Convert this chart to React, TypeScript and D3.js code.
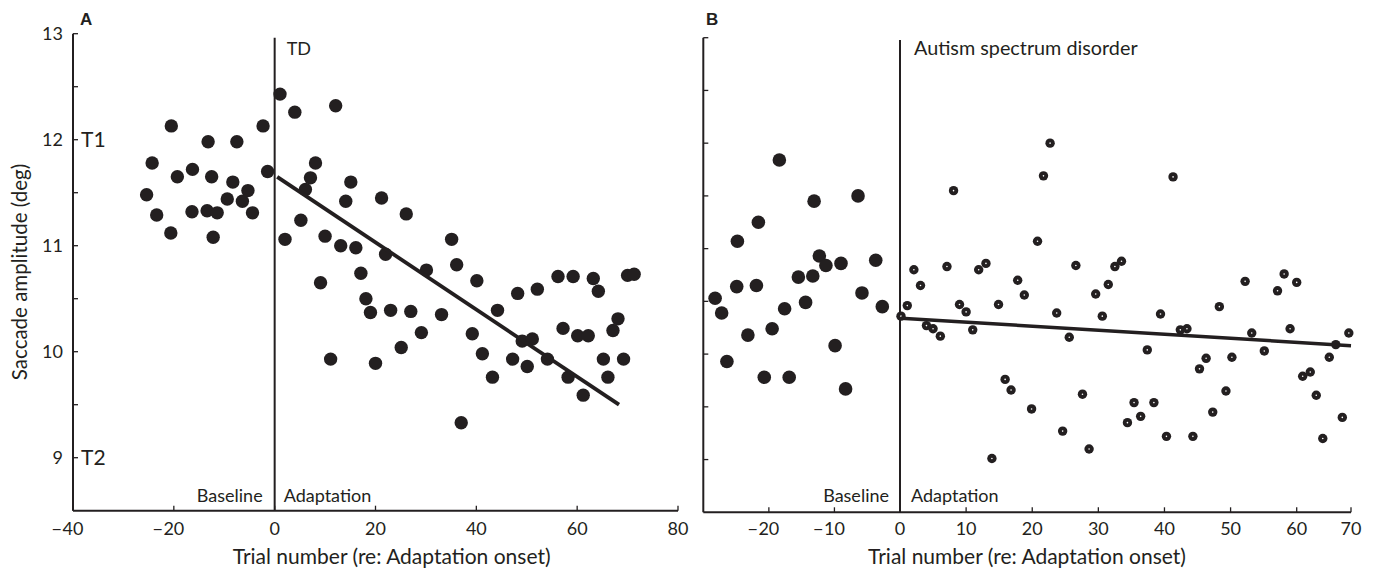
import React from "react";
import * as d3 from "d3";

// ---------- Data ----------
// Panel A: typically developing (TD)
const aBaselineTrial = [-25.4, -24.3, -23.4, -20.5, -20.6, -19.3, -16.3, -16.4, -13.2, -13.4, -12.5, -11.4, -12.2, -9.4, -8.3, -7.5, -6.4, -5.3, -4.4, -2.3, -1.4];
const aBaselineAmp = [11.48, 11.78, 11.29, 12.13, 11.12, 11.65, 11.72, 11.32, 11.98, 11.33, 11.65, 11.31, 11.08, 11.44, 11.6, 11.98, 11.42, 11.52, 11.31, 12.13, 11.7];
const aAdaptTrial = [1.06, 2.05, 4.0, 5.2, 6.1, 7.1, 8.1, 9.1, 10.0, 11.1, 12.1, 13.1, 14.1, 15.1, 16.1, 17.1, 18.1, 19.0, 20.0, 21.2, 22.0, 23.0, 25.1, 26.1, 27.0, 29.1, 30.1, 33.1, 35.1, 36.1, 37.0, 39.2, 40.1, 41.2, 43.2, 44.2, 47.2, 48.2, 49.1, 50.1, 51.1, 52.1, 54.1, 56.2, 57.2, 58.2, 59.2, 60.1, 61.2, 62.2, 63.2, 64.2, 65.2, 66.1, 67.1, 68.1, 69.2, 70.0, 71.3];
const aAdaptAmp = [12.43, 11.06, 12.26, 11.24, 11.53, 11.64, 11.78, 10.65, 11.09, 9.93, 12.32, 11.0, 11.42, 11.6, 10.98, 10.74, 10.5, 10.37, 9.89, 11.45, 10.92, 10.39, 10.04, 11.3, 10.38, 10.18, 10.77, 10.35, 11.06, 10.82, 9.33, 10.17, 10.67, 9.98, 9.76, 10.39, 9.93, 10.55, 10.1, 9.86, 10.12, 10.59, 9.93, 10.71, 10.22, 9.76, 10.71, 10.15, 9.59, 10.15, 10.69, 10.57, 9.93, 9.76, 10.2, 10.31, 9.93, 10.72, 10.73];
const aFitTrial = [0.5, 68.3];
const aFitAmp = [11.65, 9.5];

// Panel B: autism spectrum disorder
const bBaselineTrial = [-28.2, -27.2, -26.4, -24.9, -24.8, -23.2, -21.9, -21.6, -20.7, -19.5, -18.4, -17.6, -16.9, -15.5, -14.4, -13.3, -13.1, -12.3, -11.3, -9.9, -9.0, -8.3, -6.4, -5.8, -3.7, -2.7];
const bBaselineAmp = [10.53, 10.39, 9.93, 10.64, 11.07, 10.18, 10.65, 11.25, 9.78, 10.24, 11.84, 10.43, 9.78, 10.73, 10.49, 10.74, 11.45, 10.93, 10.84, 10.08, 10.86, 9.67, 11.5, 10.58, 10.89, 10.45];
const bAdaptTrial = [0.15, 1.1, 2.1, 3.1, 4.0, 5.0, 6.1, 7.1, 8.1, 9.0, 10.0, 11.0, 11.9, 13.0, 13.9, 14.9, 15.9, 16.8, 17.8, 18.8, 19.9, 20.8, 21.7, 22.7, 23.7, 24.6, 25.6, 26.6, 27.6, 28.6, 29.6, 30.6, 31.5, 32.5, 33.5, 34.4, 35.4, 36.4, 37.4, 38.4, 39.4, 40.3, 41.3, 42.4, 43.4, 44.3, 45.3, 46.3, 47.3, 48.3, 49.3, 50.2, 52.2, 53.2, 55.1, 57.1, 58.1, 59.0, 60.0, 61.1, 62.5, 63.6, 64.8, 66.0, 67.2, 68.4, 69.6];
const bAdaptAmp = [10.36, 10.46, 10.8, 10.65, 10.27, 10.24, 10.17, 10.83, 11.55, 10.47, 10.4, 10.23, 10.8, 10.86, 9.01, 10.47, 9.76, 9.66, 10.7, 10.56, 9.48, 11.07, 11.69, 12.0, 10.39, 9.27, 10.16, 10.84, 9.62, 9.1, 10.57, 10.36, 10.66, 10.83, 10.88, 9.35, 9.54, 9.41, 10.04, 9.54, 10.38, 9.22, 11.68, 10.23, 10.24, 9.22, 9.86, 9.96, 9.45, 10.45, 9.65, 9.97, 10.69, 10.2, 10.03, 10.6, 10.76, 10.24, 10.68, 9.79, 9.83, 9.61, 9.2, 9.97, 10.09, 9.4, 10.2];
const bFitTrial = [0.15, 70];
const bFitAmp = [10.34, 10.08];

const yTicks = [9, 9.5, 10, 10.5, 11, 11.5, 12, 12.5, 13];
const yLabelTicks = [9, 10, 11, 12, 13];
const aXTicks = [-40, -20, 0, 20, 40, 60, 80];
const bXTicks = [-20, -10, 0, 10, 20, 30, 40, 50, 60, 70];

const INK = "#231f20";
const FONT = "Lato, 'Open Sans', sans-serif";
const TICK_FS = 18;
const DIGIT_W = 0.58 * TICK_FS;

function zip(xs: number[], ys: number[]) {
  return xs.map((x, i) => [x, ys[i]] as [number, number]);
}

// x tick label: digits centred on the tick, minus sign hanging to the left
function XTickLabel({ x, y, v }: { x: number; y: number; v: number }) {
  const digits = String(Math.abs(v));
  const half = (digits.length * DIGIT_W) / 2;
  return (
    <g>
      <text x={x} y={y} textAnchor="middle" fontSize={TICK_FS} fill={INK}>{digits}</text>
      {v < 0 && (
        <text x={x - half - 0.5} y={y} textAnchor="end" fontSize={TICK_FS} fill={INK}>{"\u2212"}</text>
      )}
    </g>
  );
}

export default function App() {
  // Panel A scales
  const xA = d3.scaleLinear().domain([-40, 80]).range([73, 678]);
  const yA = d3.scaleLinear().domain([8.5, 13]).range([510.7, 33.7]);
  // Panel B scales (axis labels in the source are not evenly spaced past 60)
  const xB = d3.scaleLinear().domain([-30, 0, 60, 70]).range([703.3, 900, 1296.7, 1351]);
  const yB = d3.scaleLinear().domain([8.5, 13]).range([512.3, 37.7]);

  const line = (xs: d3.ScaleLinear<number, number>, ys: d3.ScaleLinear<number, number>) =>
    d3.line<[number, number]>().x((d) => xs(d[0])).y((d) => ys(d[1]));

  const tickLen = 5;

  return (
    <svg width={1376} height={572} style={{ display: "block", position: "absolute", left: 0, top: 0 }} fontFamily={FONT}>
      <rect width={1376} height={572} fill="#fff" />

      {/* ---------------- Panel A ---------------- */}
      <text x={80} y={25} fontFamily="'Liberation Sans', Arial, sans-serif" fontWeight="bold" fontSize={17} fill={INK}>A</text>
      {/* y axis */}
      <line x1={xA(-40)} x2={xA(-40)} y1={yA(13)} y2={yA(8.5)} stroke={INK} strokeWidth={2} />
      {yTicks.map((t) => (
        <line key={"ayt" + t} x1={xA(-40)} x2={xA(-40) + tickLen} y1={yA(t)} y2={yA(t)} stroke={INK} strokeWidth={1.3} />
      ))}
      {yLabelTicks.map((t) => (
        <text key={"ayl" + t} x={xA(-40) - 10} y={yA(t)} dy="0.35em" textAnchor="end" fontSize={TICK_FS} fill={INK}>{String(t)}</text>
      ))}
      <text x={xA(-40) + 8} y={yA(12)} dy="0.36em" fontSize={21} fill={INK}>T1</text>
      <text x={xA(-40) + 8} y={yA(9)} dy="0.36em" fontSize={21} fill={INK}>T2</text>
      <text transform={`translate(27,272) rotate(-90)`} textAnchor="middle" fontSize={20.5} fill={INK}>Saccade amplitude (deg)</text>
      {/* x axis */}
      <line x1={xA(-40)} x2={xA(80)} y1={yA(8.5)} y2={yA(8.5)} stroke={INK} strokeWidth={2} />
      {aXTicks.map((t) => (
        <g key={"axt" + t}>
          <line x1={xA(t)} x2={xA(t)} y1={yA(8.5)} y2={yA(8.5) - tickLen} stroke={INK} strokeWidth={1.3} />
          <XTickLabel x={xA(t)} y={535} v={t} />
        </g>
      ))}
      <text x={391.7} y={564} textAnchor="middle" fontSize={21} fill={INK}>Trial number (re: Adaptation onset)</text>
      {/* onset line */}
      <line x1={xA(0)} x2={xA(0)} y1={37.7} y2={yA(8.5)} stroke={INK} strokeWidth={2} />
      <text x={xA(0) + 12} y={55} fontSize={18} fill={INK}>TD</text>
      <text x={xA(0) - 12} y={502} textAnchor="end" fontSize={18} fill={INK}>Baseline</text>
      <text x={xA(0) + 9} y={502} fontSize={18} fill={INK}>Adaptation</text>
      {/* points */}
      {zip(aBaselineTrial, aBaselineAmp).map((d, i) => (
        <circle key={"ab" + i} cx={xA(d[0])} cy={yA(d[1])} r={6.7} fill={INK} />
      ))}
      {zip(aAdaptTrial, aAdaptAmp).map((d, i) => (
        <circle key={"aa" + i} cx={xA(d[0])} cy={yA(d[1])} r={6.7} fill={INK} />
      ))}
      <path d={line(xA, yA)(zip(aFitTrial, aFitAmp)) || ""} stroke={INK} strokeWidth={3.8} fill="none" />

      {/* ---------------- Panel B ---------------- */}
      <text x={706} y={25} fontFamily="'Liberation Sans', Arial, sans-serif" fontWeight="bold" fontSize={17} fill={INK}>B</text>
      <line x1={xB(-30)} x2={xB(-30)} y1={yB(13)} y2={yB(8.5)} stroke={INK} strokeWidth={2} />
      {yTicks.map((t) => (
        <line key={"byt" + t} x1={xB(-30)} x2={xB(-30) + tickLen} y1={yB(t)} y2={yB(t)} stroke={INK} strokeWidth={1.3} />
      ))}
      <line x1={xB(-30)} x2={xB(70)} y1={yB(8.5)} y2={yB(8.5)} stroke={INK} strokeWidth={2} />
      {bXTicks.map((t) => (
        <g key={"bxt" + t}>
          <line x1={xB(t)} x2={xB(t)} y1={yB(8.5)} y2={yB(8.5) - tickLen} stroke={INK} strokeWidth={1.3} />
          <XTickLabel x={xB(t)} y={535} v={t} />
        </g>
      ))}
      <text x={1027} y={564} textAnchor="middle" fontSize={21} fill={INK}>Trial number (re: Adaptation onset)</text>
      <line x1={xB(0)} x2={xB(0)} y1={40} y2={yB(8.5)} stroke={INK} strokeWidth={2} />
      <text x={xB(0) + 14} y={55} fontSize={19.8} fill={INK}>Autism spectrum disorder</text>
      <text x={xB(0) - 11} y={502} textAnchor="end" fontSize={18} fill={INK}>Baseline</text>
      <text x={xB(0) + 11} y={502} fontSize={18} fill={INK}>Adaptation</text>
      {zip(bBaselineTrial, bBaselineAmp).map((d, i) => (
        <circle key={"bb" + i} cx={xB(d[0])} cy={yB(d[1])} r={6.8} fill={INK} />
      ))}
      {zip(bAdaptTrial, bAdaptAmp).map((d, i) => (
        <g key={"ba" + i}>
          <circle cx={xB(d[0])} cy={yB(d[1])} r={4.7} fill={INK} />
          <circle cx={xB(d[0])} cy={yB(d[1])} r={0.8} fill="#fff" />
        </g>
      ))}
      <path d={line(xB, yB)(zip(bFitTrial, bFitAmp)) || ""} stroke={INK} strokeWidth={3.5} fill="none" />
    </svg>
  );
}
